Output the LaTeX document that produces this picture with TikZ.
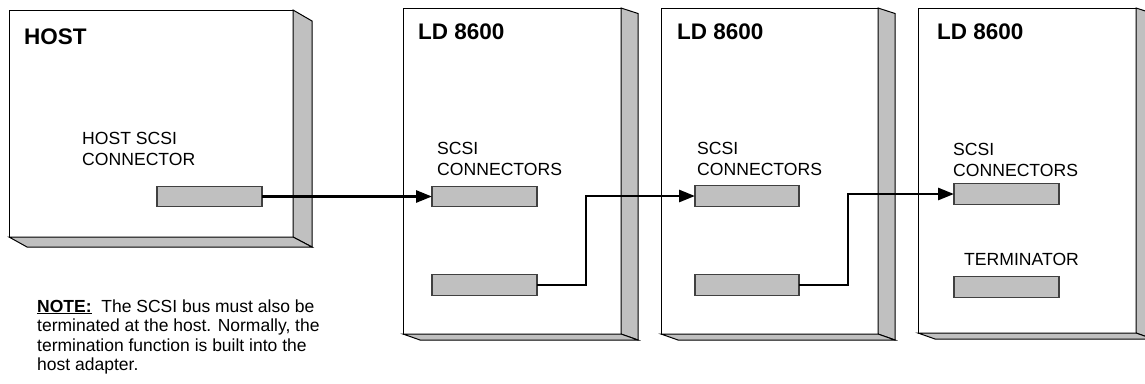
\documentclass[tikz,border=0pt]{standalone}
\usepackage{fontspec}
\setmainfont{Liberation Sans}
\usetikzlibrary{arrows.meta,calc}
\definecolor{panelgray}{HTML}{C0C0C0}
\newcommand\myul[1]{\setbox0\hbox{#1}\rlap{\rule[-2.4pt]{\wd0}{1.5pt}}\box0}
\begin{document}
\begin{tikzpicture}[x=1pt,y=-1pt,
  face/.style={draw=black, line width=1pt, fill=white, inner sep=0pt, outer sep=0pt},
  panel/.style={draw=black, line width=1pt, fill=panelgray, line join=miter},
  conn/.style={draw=black!75, line width=1.2pt, fill=panelgray, inner sep=0pt, outer sep=0pt, minimum width=105pt, minimum height=20.5pt},
  wire/.style={line width=2.8pt, -{Triangle[length=16pt,width=12pt]}},
  title/.style={font=\fontsize{22.5}{26}\selectfont\bfseries, anchor=base west, inner sep=0pt},
  lbl/.style={font=\fontsize{17.6}{21}\selectfont, anchor=base west, inner sep=0pt},
  note/.style={font=\fontsize{17.5}{20}\selectfont, anchor=base west, inner sep=0pt}
]
\useasboundingbox (0,0) rectangle (1145,383);
\clip (0,0) rectangle (1145,383);

% HOST cabinet
\node[face, minimum width=284pt, minimum height=227pt] (host) at (151,123.5) {};
\draw[panel] (host.north east) -- ++(19,11) -- ($(host.south east)+(19,10)$) -- (host.south east) -- cycle;
\draw[panel] (host.south west) -- ++(18,10) -- ($(host.south east)+(19,10)$) -- (host.south east) -- cycle;

% LD cabinets
\node[face, minimum width=218pt, minimum height=326pt] (ld1) at (512,171) {};
\node[face, minimum width=217pt, minimum height=326pt] (ld2) at (769.5,171) {};
\node[face, minimum width=218pt, minimum height=325pt] (ld3) at (1027,170.5) {};
\foreach \b in {ld1,ld2,ld3}{
  \draw[panel] (\b.north east) -- ++(17,5.5) -- ($(\b.south east)+(17,6)$) -- (\b.south east) -- cycle;
  \draw[panel] (\b.south west) -- ++(17,6) -- ($(\b.south east)+(17,6)$) -- (\b.south east) -- cycle;
}

% titles
\node[title] (thost) at (24,44) {HOST};
\node[title] (tld1) at (418,39) {LD 8600};
\node[title] (tld2) at (677,39) {LD 8600};
\node[title] (tld3) at (937,39) {LD 8600};

% labels
\node[lbl] (h1) at (82,144) {HOST SCSI};
\node[lbl] (h2) at (82,165) {CONNECTOR};
\node[lbl] (a1) at (437,154) {SCSI};
\node[lbl] (a2) at (437,175) {CONNECTORS};
\node[lbl] (b1) at (697,154) {SCSI};
\node[lbl] (b2) at (697,175) {CONNECTORS};
\node[lbl] (c1) at (953,155) {SCSI};
\node[lbl] (c2) at (953,176) {CONNECTORS};
\node[lbl] (t1) at (964,265) {TERMINATOR};

% connectors
\node[conn] (hc) at (209.5,196.5) {};
\node[conn] (l1a) at (484.5,196.5) {};
\node[conn] (l1b) at (484.5,285) {};
\node[conn, minimum width=104pt] (l2a) at (747,196) {};
\node[conn, minimum width=104pt] (l2b) at (747,285) {};
\node[conn] (l3a) at (1006.5,194) {};
\node[conn] (term) at (1006.5,287) {};

% wires
\draw[wire] (hc.east) -- (l1a.west);
\draw[wire] (l1b.east) -- ++(49,0) |- (l2a.west);
\draw[wire] (l2b.east) -- ++(49,0) |- (l3a.west);

% note
\node[note] (n1) at (37,312) {\myul{\textbf{NOTE:}}\ \ The SCSI bus must also be};
\node[note] (n2) at (37,331.5) {terminated at the host. Normally, the};
\node[note] (n3) at (37,351) {termination function is built into the};
\node[note] (n4) at (37,370.5) {host adapter.};
\end{tikzpicture}
\end{document}
